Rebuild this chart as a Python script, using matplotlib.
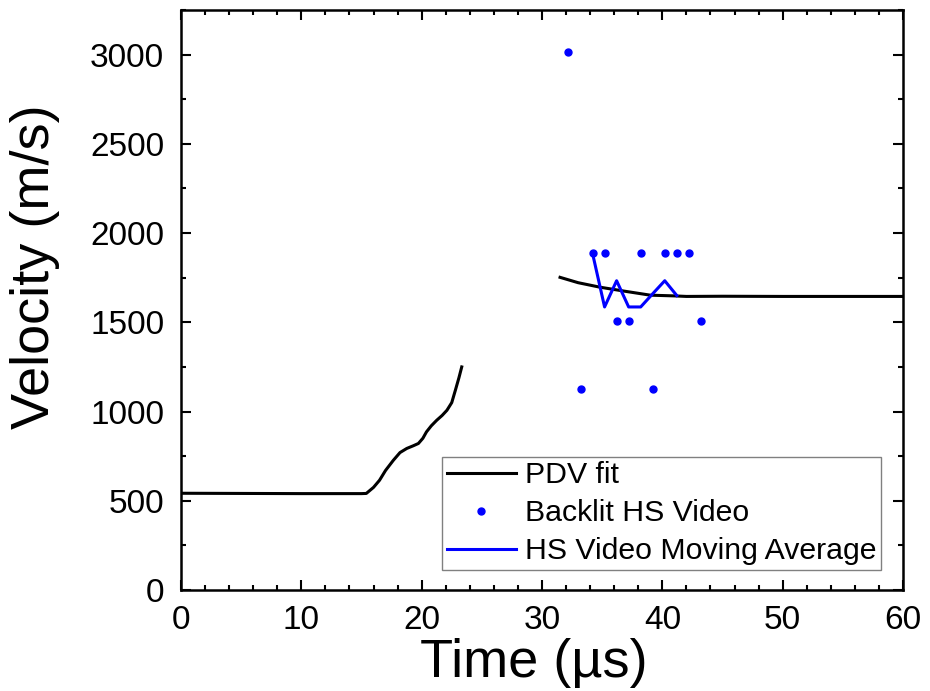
"""Velocity vs time: PDV fit and backlit high-speed video."""

import matplotlib.pyplot as plt
from matplotlib.ticker import MultipleLocator

plt.rcParams["font.family"] = ["Liberation Sans", "DejaVu Sans"]

# PDV fit, early segment (time in us, velocity in m/s)
pdv1_t = [0.0, 5.0, 10.0, 15.0, 15.4, 16.0, 16.5, 17.0, 17.65, 18.2, 18.76, 19.3,
          19.73, 20.1, 20.4, 20.8, 21.25, 21.7, 22.1, 22.5, 22.8, 23.1, 23.33]
pdv1_v = [542, 541, 540, 540, 541, 575, 615, 670, 727, 770, 793, 808,
          821, 850, 886, 920, 951, 978, 1007, 1050, 1119, 1190, 1250]

# PDV fit, late segment
pdv2_t = [31.5, 33.0, 34.8, 36.8, 39.0, 41.0, 42.0, 45.0, 50.0, 55.0, 60.0]
pdv2_v = [1752, 1722, 1697, 1675, 1652, 1648, 1645, 1646, 1645, 1645, 1645]

# Backlit HS video points
video_t = [32.2, 33.2, 34.2, 35.2, 36.2, 37.2, 38.2, 39.2, 40.2, 41.2, 42.2, 43.2]
video_v = [3016, 1129, 1886, 1886, 1505, 1505, 1886, 1129, 1886, 1886, 1886, 1505]

# HS video moving average
avg_t = [34.2, 35.2, 36.2, 37.2, 38.2, 39.2, 40.2, 41.2]
avg_v = [1886, 1586, 1733, 1586, 1586, 1660, 1733, 1650]

fig = plt.figure(figsize=(9.30, 6.91), dpi=100)
ax = fig.add_axes([0.1946, 0.1462, 0.7764, 0.8393])

ax.plot(pdv1_t, pdv1_v, color="black", lw=2.2, label="PDV fit")
ax.plot(pdv2_t, pdv2_v, color="black", lw=2.2)
ax.plot(video_t, video_v, ls="none", marker="o", ms=5, color="#0000ff",
        label="Backlit HS Video")
ax.plot(avg_t, avg_v, color="#0000ff", lw=2.2, label="HS Video Moving Average")

ax.set_xlim(0, 60)
ax.set_ylim(0, 3250)
ax.xaxis.set_major_locator(MultipleLocator(10))
ax.xaxis.set_minor_locator(MultipleLocator(2))
ax.yaxis.set_major_locator(MultipleLocator(500))
ax.yaxis.set_minor_locator(MultipleLocator(250))
ax.tick_params(which="both", direction="in", top=True, right=True, width=1.5)
ax.tick_params(which="major", length=7.5, labelsize=24)
ax.tick_params(which="minor", length=3.7)
ax.tick_params(axis="x", pad=11)
ax.tick_params(axis="y", pad=12)
for sp in ax.spines.values():
    sp.set_linewidth(1.8)

ax.set_xlabel("Time (µs)", fontsize=39)
ax.set_ylabel("Velocity (m/s)", fontsize=39)
ax.xaxis.set_label_coords(0.489, -0.082)
ax.yaxis.set_label_coords(-0.167, 0.557)

leg = ax.legend(loc="lower right", bbox_to_anchor=(0.97, 0.035), fontsize=21.8,
                frameon=True, fancybox=False, framealpha=1, edgecolor="#808080",
                borderpad=0.15, labelspacing=0.33, handlelength=2.3,
                handletextpad=0.3, borderaxespad=0)
leg.get_frame().set_linewidth(1.0)

fig.savefig("out.png", dpi=100)
